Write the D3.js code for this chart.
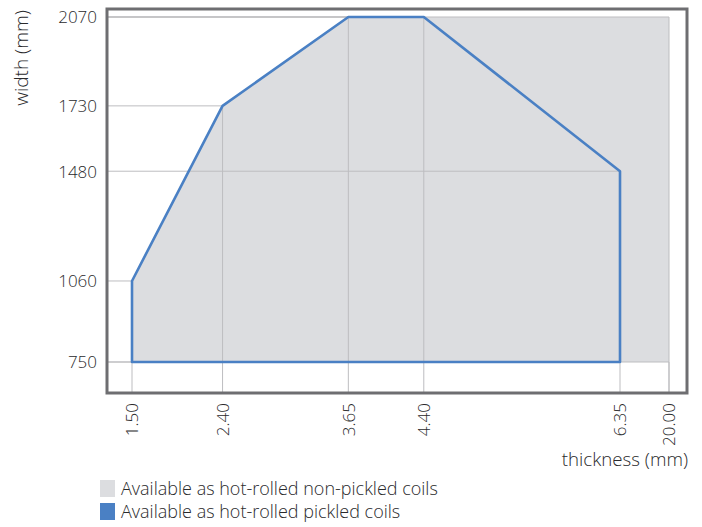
<!DOCTYPE html>
<html>
<head>
<meta charset="utf-8">
<script src="https://cdn.jsdelivr.net/npm/d3@7"></script>
<style>
body { margin: 0; background: #fff; }
text { font-family: "Open Sans", "Noto Sans", sans-serif; font-weight: 300; fill: #2a2a2c; }
</style>
</head>
<body>
<div id="chart"></div>
<script>
// thickness ticks and width ticks (mm)
var thicknessTicks = [1.50, 2.40, 3.65, 4.40, 6.35, 20.00],
	widthTicks = [750, 1060, 1480, 1730, 2070];

// non-pickled area outline
var nonPickled = [
	[1.50, 750], [1.50, 1060], [2.40, 1730], [3.65, 2070],
	[20.00, 2070], [20.00, 750]
];

// pickled area outline
var pickled = [
	[1.50, 750], [1.50, 1060], [2.40, 1730], [3.65, 2070],
	[4.40, 2070], [6.35, 1480], [6.35, 750]
];

// drop lines from the corner points to the axes
var dropPoints = [
	[1.50, 1060], [2.40, 1730], [3.65, 2070], [4.40, 2070],
	[6.35, 1480], [20.00, 2070], [20.00, 750]
];

var legendItems = [
	{ label: "Available as hot-rolled non-pickled coils", color: "#dcdde0" },
	{ label: "Available as hot-rolled pickled coils", color: "#4a80c4" }
];

var width = 702, height = 527;
var frame = { left: 107, top: 9, right: 687, bottom: 393 };

var svg = d3.select("#chart")
	.append("svg")
	.attr("width", width)
	.attr("height", height);

var x = d3.scaleLinear()
	.domain([1.50, 6.35, 20.00])
	.range([132, 620, 669]);

var y = d3.scaleLinear()
	.domain([750, 2070])
	.range([362, 17]);

var line = d3.line()
	.x(function(d) { return x(d[0]); })
	.y(function(d) { return y(d[1]); });

// grey area
svg.append("path")
	.attr("d", line(nonPickled) + "Z")
	.attr("fill", "#dcdde0");

// drop lines
dropPoints.forEach(function(p) {
	svg.append("line")
		.attr("x1", x(p[0])).attr("x2", x(p[0]))
		.attr("y1", frame.bottom).attr("y2", y(p[1]))
		.attr("stroke", "#bdbdc0").attr("stroke-width", 1);
	svg.append("line")
		.attr("x1", frame.left).attr("x2", x(p[0]))
		.attr("y1", y(p[1])).attr("y2", y(p[1]))
		.attr("stroke", "#bdbdc0").attr("stroke-width", 1);
});
svg.append("line")
	.attr("x1", frame.left).attr("x2", x(1.50))
	.attr("y1", y(750)).attr("y2", y(750))
	.attr("stroke", "#bdbdc0").attr("stroke-width", 1);

// blue outline
svg.append("path")
	.attr("d", line(pickled) + "Z")
	.attr("fill", "none")
	.attr("stroke", "#4a80c4")
	.attr("stroke-width", 2.6)
	.attr("stroke-linejoin", "round");

// frame
svg.append("rect")
	.attr("x", frame.left)
	.attr("y", frame.top)
	.attr("width", frame.right - frame.left)
	.attr("height", frame.bottom - frame.top)
	.attr("fill", "none")
	.attr("stroke", "#6e6e71")
	.attr("stroke-width", 3);

// y axis labels
var yAxis = d3.axisLeft(y)
	.tickValues(widthTicks)
	.tickSize(0)
	.tickPadding(0)
	.tickFormat(d3.format("d"));

svg.append("g")
	.attr("transform", "translate(97,0)")
	.call(yAxis)
	.call(function(g) { g.select(".domain").remove(); })
	.selectAll("text")
	.attr("dy", "0.35em")
	.style("font-size", "17px")
	.style("font-family", "'Open Sans', 'Noto Sans', sans-serif")
	.style("font-weight", 300)
	.attr("fill", "#2a2a2c");

// x axis labels, rotated
var xAxis = d3.axisBottom(x)
	.tickValues(thicknessTicks)
	.tickSize(0)
	.tickPadding(0)
	.tickFormat(d3.format(".2f"));

svg.append("g")
	.attr("transform", "translate(0,403)")
	.call(xAxis)
	.call(function(g) { g.select(".domain").remove(); })
	.selectAll("text")
	.attr("transform", "rotate(-90)")
	.attr("x", 0)
	.attr("y", 0)
	.attr("dy", "0.35em")
	.attr("text-anchor", "end")
	.style("font-size", "17px")
	.style("font-family", "'Open Sans', 'Noto Sans', sans-serif")
	.style("font-weight", 300)
	.attr("fill", "#2a2a2c");

// axis titles
svg.append("text")
	.attr("transform", "translate(28,10) rotate(-90)")
	.attr("text-anchor", "end")
	.style("font-size", "19px")
	.text("width (mm)");

svg.append("text")
	.attr("x", 688)
	.attr("y", 466)
	.attr("text-anchor", "end")
	.style("font-size", "18.7px")
	.text("thickness (mm)");

// legend
legendItems.forEach(function(item, i) {
	var top = 480 + i * 23;
	svg.append("rect")
		.attr("x", 100).attr("y", top)
		.attr("width", 15).attr("height", 17)
		.attr("fill", item.color);
	svg.append("text")
		.attr("x", 121).attr("y", top + 15)
		.style("font-size", "18px")
		.attr("fill", "#404042")
		.text(item.label);
});
</script>
</body>
</html>
